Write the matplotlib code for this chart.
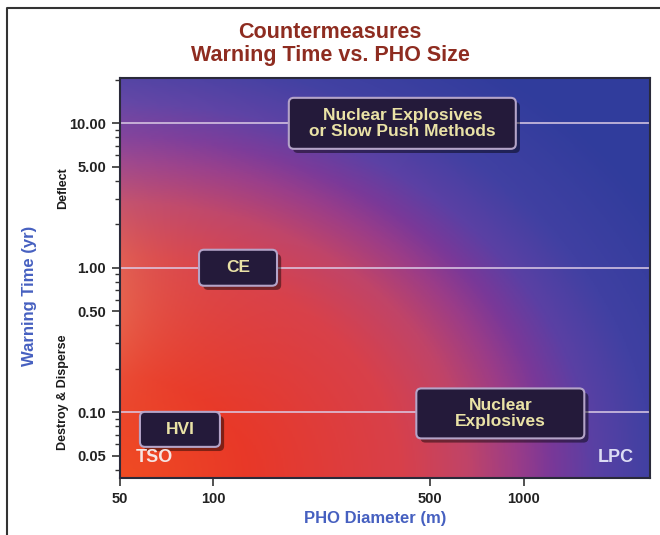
import numpy as np
import matplotlib
matplotlib.use("Agg")
import matplotlib.pyplot as plt
import matplotlib.patheffects as pe
from matplotlib.patches import FancyBboxPatch
from matplotlib.colors import LinearSegmentedColormap
from matplotlib.lines import Line2D
from matplotlib.transforms import ScaledTranslation
from matplotlib.ticker import FixedLocator, FormatStrFormatter, NullLocator

plt.rcParams["font.family"] = ["Liberation Sans", "DejaVu Sans"]

# axis ranges and ticks
x_range = [50, 2550]
y_range = [0.035, 20.6]
x_ticks = [50, 100, 500, 1000]
y_ticks = [0.05, 0.10, 0.50, 1.00, 5.00, 10.00]
ref_lines = [0.1, 1.0, 10.0]

# countermeasure regions: label text, diameter (m), warning time (yr)
region_text = ["Nuclear Explosives\nor Slow Push Methods", "CE", "HVI", "Nuclear\nExplosives"]
region_x = [406, 120, 78, 840]
region_y = [10.0, 1.0, 0.076, 0.098]
box_w = [2.27, 0.78, 0.80, 1.68]   # inches
box_h = [0.51, 0.36, 0.35, 0.50]

fig = plt.figure(figsize=(6.6, 5.35), dpi=100)
ax = fig.add_axes([120 / 660, 1 - 478 / 535, 530 / 660, 400 / 535])
ax.set_xscale("log")
ax.set_yscale("log")
ax.set_xlim(*x_range)
ax.set_ylim(*y_range)

# background gradient: red in the lower-left, through magenta/purple to blue
n = 400
xn, yn = np.meshgrid(np.linspace(0, 1, n), np.linspace(0, 1, n))
d = np.sqrt((xn / 0.8) ** 2 + (yn / 0.84) ** 2)
dmax = 1.5
stops = [
    (0.00, "#f04a22"),
    (0.30, "#e83828"),
    (0.66, "#d8404a"),
    (0.82, "#c04468"),
    (0.94, "#9a3c88"),
    (1.02, "#7a3898"),
    (1.12, "#5a40a4"),
    (1.26, "#4040a2"),
    (1.50, "#303c9c"),
]
cmap = LinearSegmentedColormap.from_list("pho", [(s / dmax, c) for s, c in stops])
rgb = cmap(np.clip(d / dmax, 0, 1))[..., :3]
# warm glow down the left edge and a lighter lavender haze up top-left
w = 0.45 * np.exp(-xn / 0.1) * np.exp(-((yn - 0.45) / 0.25) ** 2)
glow = np.array([0.94, 0.56, 0.38])
rgb = rgb * (1 - w[..., None]) + glow * w[..., None]
w2 = 0.18 * np.exp(-xn / 0.25) * np.exp(-((yn - 0.85) / 0.2) ** 2)
haze = np.array([0.62, 0.45, 0.72])
rgb = rgb * (1 - w2[..., None]) + haze * w2[..., None]
ax.imshow(rgb, origin="lower", extent=[0, 1, 0, 1], transform=ax.transAxes,
          aspect="auto", interpolation="bilinear", zorder=0)

for yv in ref_lines:
    ax.axhline(yv, color="#dccbe6", lw=1.3, alpha=0.85, zorder=1)

# dark label boxes sized in inches, centred on data points
for txt, xv, yv, bw, bh in zip(region_text, region_x, region_y, box_w, box_h):
    tr = fig.dpi_scale_trans + ScaledTranslation(xv, yv, ax.transData)
    box = FancyBboxPatch((-bw / 2 + 0.05, -bh / 2 + 0.05), bw - 0.1, bh - 0.1,
                         boxstyle="round,pad=0.05", transform=tr,
                         facecolor="#241a3a", edgecolor="#b4a4c8", lw=1.5, zorder=3)
    box.set_path_effects([pe.SimplePatchShadow(offset=(3, -3), shadow_rgbFace="black", alpha=0.45),
                          pe.Normal()])
    ax.add_patch(box)
    ax.text(xv, yv, txt, ha="center", va="center", color="#eae2a6",
            fontsize=12.5, fontweight="bold", linespacing=1.1, zorder=4)

ax.text(0.03, 0.03, "TSO", transform=ax.transAxes, color="#f6e4e2",
        fontsize=13, fontweight="bold", ha="left", va="bottom", zorder=4)
ax.text(0.97, 0.03, "LPC", transform=ax.transAxes, color="#dcdcf4",
        fontsize=13, fontweight="bold", ha="right", va="bottom", zorder=4)

ax.xaxis.set_major_locator(FixedLocator(x_ticks))
ax.xaxis.set_minor_locator(NullLocator())
ax.xaxis.set_major_formatter(FormatStrFormatter("%d"))
ax.yaxis.set_major_locator(FixedLocator(y_ticks))
ax.yaxis.set_major_formatter(FormatStrFormatter("%.2f"))
ax.tick_params(axis="both", which="major", length=6, width=1.2, color="#333333",
               labelsize=10.5, labelcolor="#222222", pad=4)
ax.tick_params(axis="y", which="minor", length=3.5, width=1, color="#333333")
for lab in ax.get_xticklabels() + ax.get_yticklabels():
    lab.set_fontweight("bold")
for sp in ax.spines.values():
    sp.set_color("#2a2a3a")
    sp.set_linewidth(1.5)

# titles and axis captions
title_col = "#8e2c20"
fig.text(0.5, 1 - 33 / 535, "Countermeasures", ha="center", va="center",
         color=title_col, fontsize=15.5, fontweight="bold")
fig.text(0.5, 1 - 55 / 535, "Warning Time vs. PHO Size", ha="center", va="center",
         color=title_col, fontsize=15.5, fontweight="bold")
blue = "#4660c0"
fig.text(375 / 660, 1 - 519 / 535, "PHO Diameter (m)", ha="center", va="center",
         color=blue, fontsize=12, fontweight="bold")
fig.text(30 / 660, 1 - 296 / 535, "Warning Time (yr)", ha="center", va="center",
         rotation=90, color=blue, fontsize=12, fontweight="bold")
fig.text(63 / 660, 1 - 188 / 535, "Deflect", ha="center", va="center",
         rotation=90, color="#1a1a1a", fontsize=9, fontweight="bold")
fig.text(63 / 660, 1 - 392 / 535, "Destroy & Disperse", ha="center", va="center",
         rotation=90, color="#1a1a1a", fontsize=9, fontweight="bold")

# page frame along the left and top
fx, fy = 7 / 660, 1 - 8 / 535
fig.add_artist(Line2D([fx, fx, 1.0], [0.0, fy, fy], transform=fig.transFigure,
                      color="#333333", lw=1.5))

fig.savefig("out.png", dpi=100, facecolor="white")
